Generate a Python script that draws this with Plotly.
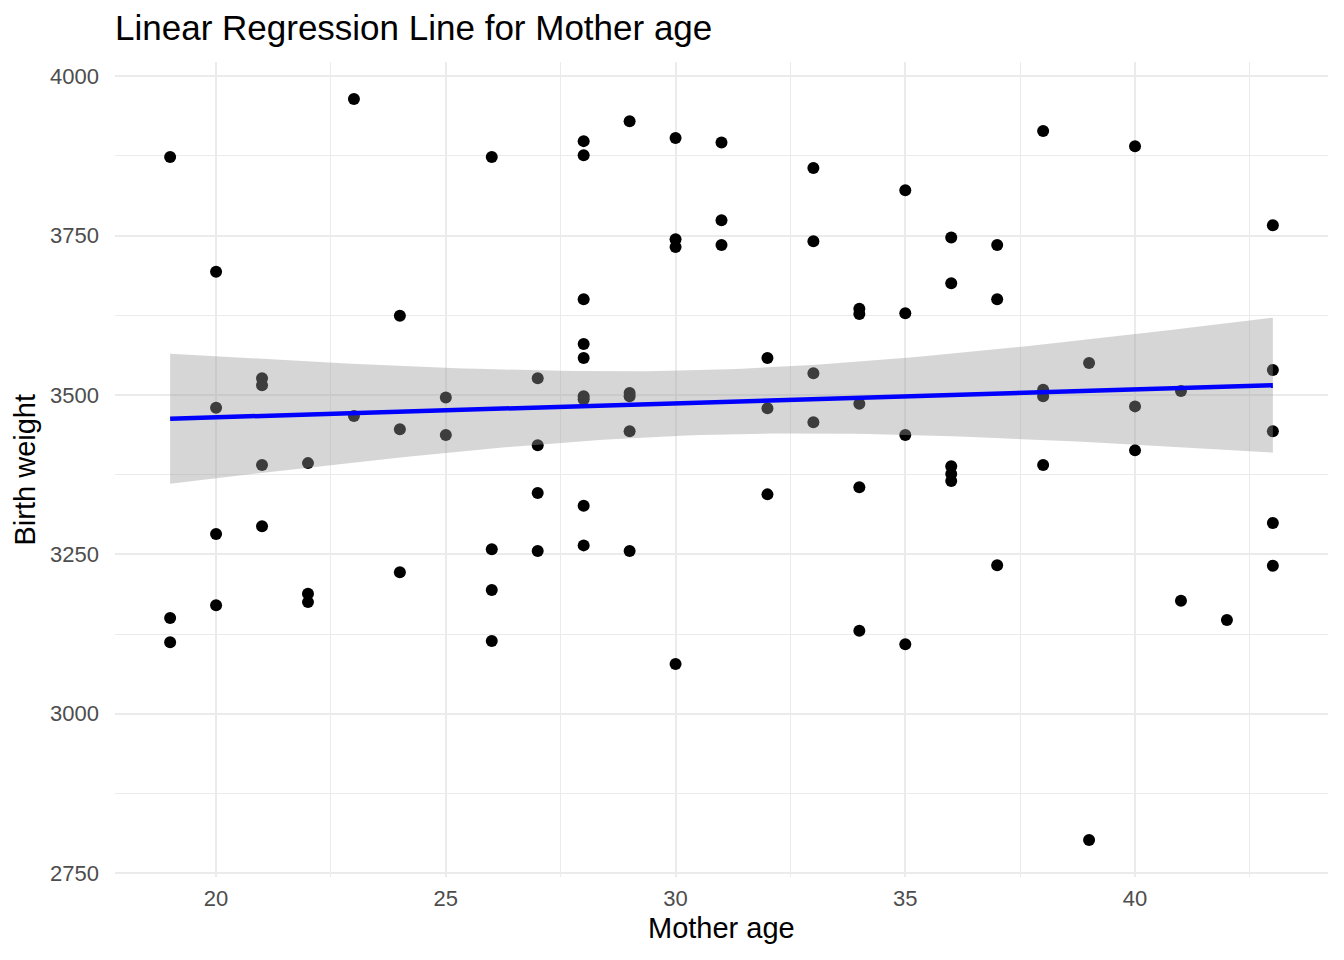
import numpy as np
import plotly.graph_objects as go

# ---------------- data ----------------
mother_age = [19, 19, 19,
              20, 20, 20, 20,
              21, 21, 21, 21,
              22, 22, 22,
              23, 23,
              24, 24, 24,
              25, 25,
              26, 26, 26, 26,
              27, 27, 27, 27,
              28, 28, 28, 28, 28, 28, 28, 28, 28,
              29, 29, 29, 29, 29,
              30, 30, 30, 30,
              31, 31, 31,
              32, 32, 32,
              33, 33, 33, 33,
              34, 34, 34, 34, 34,
              35, 35, 35, 35,
              36, 36, 36, 36, 36,
              37, 37, 37,
              38, 38, 38, 38,
              39, 39,
              40, 40, 40,
              41, 41,
              42,
              43, 43, 43, 43, 43]

birth_weight = [3873, 3150, 3112,
                3693, 3480, 3282, 3170,
                3526, 3515, 3390, 3294,
                3393, 3188, 3175,
                3964, 3467,
                3624, 3446, 3222,
                3496, 3437,
                3873, 3258, 3194, 3114,
                3526, 3421, 3346, 3255,
                3898, 3876, 3650, 3580, 3558, 3498, 3493, 3326, 3264,
                3929, 3503, 3498, 3443, 3255,
                3903, 3744, 3732, 3078,
                3896, 3774, 3735,
                3558, 3479, 3344,
                3856, 3741, 3534, 3457,
                3635, 3627, 3486, 3355, 3130,
                3821, 3628, 3437, 3109,
                3747, 3675, 3388, 3376, 3365,
                3735, 3650, 3233,
                3914, 3508, 3498, 3390,
                3550, 2802,
                3890, 3482, 3413,
                3506, 3177,
                3147,
                3766, 3539, 3443, 3299, 3232]

x_ticks = [20, 25, 30, 35, 40]
y_ticks = [2750, 3000, 3250, 3500, 3750, 4000]

title_text = "Linear Regression Line for Mother age"
x_title = "Mother age"
y_title = "Birth weight"

# ---------------- linear model with 95% confidence band ----------------
x = np.array(mother_age, dtype=float)
y = np.array(birth_weight, dtype=float)
n = len(x)
slope, intercept = np.polyfit(x, y, 1)
resid = y - (intercept + slope * x)
s = np.sqrt(np.sum(resid ** 2) / (n - 2))
t_crit = 1.987  # t(0.975, df ~ 89)
xg = np.linspace(x.min(), x.max(), 80)
yg = intercept + slope * xg
se = s * np.sqrt(1.0 / n + (xg - x.mean()) ** 2 / np.sum((x - x.mean()) ** 2))
upper = yg + t_crit * se
lower = yg - t_crit * se

# ggplot-like 5% expansion
xr = x.max() - x.min()
yr = y.max() - y.min()
x_range = [x.min() - 0.05 * xr, x.max() + 0.05 * xr]
y_range = [y.min() - 0.05 * yr, y.max() + 0.05 * yr]

FONT = "Liberation Sans, Arial, Helvetica, sans-serif"

# page body adds an 8px offset; plot area in figure coords
L, T, PW, PH = 107, 54, 1213, 815
W, H = 1344, 960

fig = go.Figure()
fig.add_trace(go.Scatter(
    x=mother_age, y=birth_weight, mode="markers",
    marker=dict(color="black", size=12, line=dict(width=0)),
    showlegend=False, hoverinfo="x+y"))
fig.add_trace(go.Scatter(
    x=np.concatenate([xg, xg[::-1]]), y=np.concatenate([upper, lower[::-1]]),
    mode="lines", fill="toself", fillcolor="rgba(153,153,153,0.4)",
    line=dict(width=0), showlegend=False, hoverinfo="skip"))
fig.add_trace(go.Scatter(
    x=xg, y=yg, mode="lines", line=dict(color="#0000FF", width=4.5),
    showlegend=False, hoverinfo="skip"))

fig.update_layout(
    width=W, height=H,
    margin=dict(l=L, r=W - L - PW, t=T, b=H - T - PH),
    paper_bgcolor="white", plot_bgcolor="white",
    font=dict(family=FONT, color="black"),
    title=dict(text=title_text, x=0, xref="paper", xanchor="left",
               y=1 - 20 / H, yref="container", yanchor="middle",
               font=dict(size=35, color="black", family=FONT)),
    xaxis=dict(range=x_range, tickvals=x_ticks, ticktext=[str(v) for v in x_ticks],
               showgrid=True, gridcolor="#EBEBEB", gridwidth=2,
               minor=dict(dtick=2.5, tick0=0, showgrid=True, gridcolor="#EBEBEB", gridwidth=1),
               zeroline=False, showline=False, ticks="",
               tickfont=dict(size=22, color="#4D4D4D", family=FONT),
               ticklabelstandoff=6),
    yaxis=dict(range=y_range, tickvals=y_ticks, ticktext=[str(v) for v in y_ticks],
               showgrid=True, gridcolor="#EBEBEB", gridwidth=2,
               minor=dict(dtick=125, tick0=0, showgrid=True, gridcolor="#EBEBEB", gridwidth=1),
               zeroline=False, showline=False, ticks="",
               tickfont=dict(size=22, color="#4D4D4D", family=FONT),
               ticklabelstandoff=15),
    annotations=[
        dict(text=x_title, xref="paper", yref="paper", x=0.5, y=-(928 - 877) / PH,
             xanchor="center", yanchor="middle", showarrow=False,
             font=dict(size=29, color="black", family=FONT)),
        dict(text=y_title, xref="paper", yref="paper", x=(24 - 115) / PW, y=0.5,
             xanchor="center", yanchor="middle", showarrow=False, textangle=-90,
             font=dict(size=29, color="black", family=FONT)),
    ],
)

fig.write_html("out.html")
